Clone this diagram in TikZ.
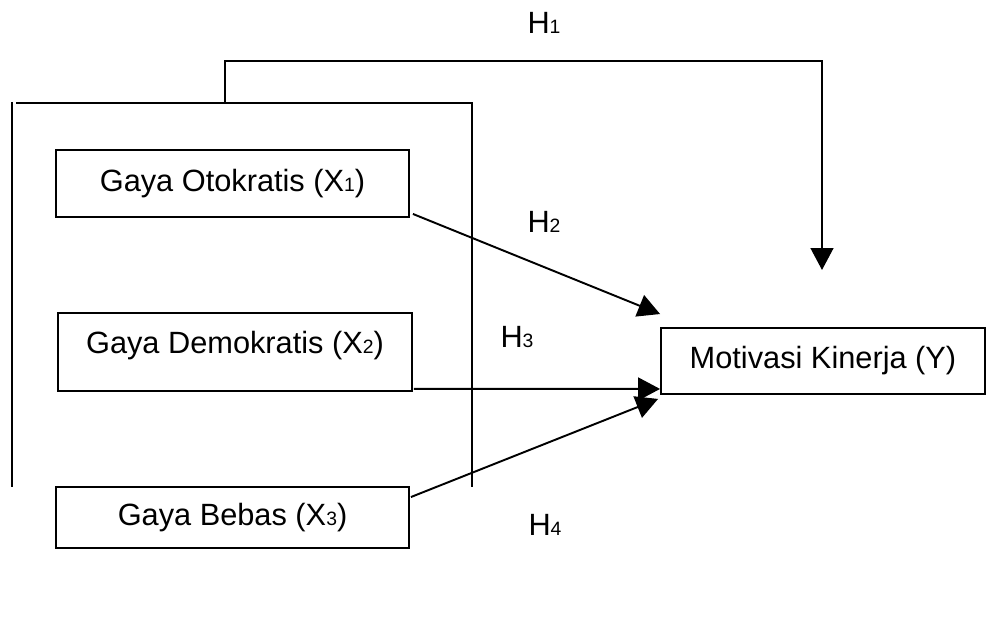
\documentclass[tikz,border=0pt]{standalone}
\usepackage{fontspec}
\setmainfont{Liberation Sans}
\usetikzlibrary{arrows.meta,positioning,calc}
\newcommand{\sx}[1]{{\fontsize{11}{12}\selectfont #1}}
\tikzset{
  >={Triangle[length=12.5pt,width=13pt]},
  var/.style={rectangle, draw, line width=1.1pt, inner sep=0pt, font=\fontsize{17.5}{21}\selectfont},
  hyp/.style={inner sep=0pt, font=\fontsize{17.5}{21}\selectfont},
  arr/.style={->, line width=1.1pt},
  frame/.style={line width=1.1pt}
}

\begin{document}
\begin{tikzpicture}[x=0.02cm, y=-0.02cm]
\useasboundingbox (0,0) rectangle (988,617);

% --- Independent variables ---
\node[var, minimum width=7.06cm, minimum height=1.34cm] (X1) at (232.5,183.5) {Gaya Otokratis (X\sx{1})};
\node[var, minimum width=7.08cm, minimum height=1.56cm, text depth=0.4cm] (X2) at (235,352) {Gaya Demokratis (X\sx{2})};
\node[var, minimum width=7.06cm, minimum height=1.22cm] (X3) at (232.5,517.5) {Gaya Bebas (X\sx{3})};

% --- Dependent variable ---
\node[var, minimum width=6.48cm, minimum height=1.32cm] (Y) at (823,361) {Motivasi Kinerja (Y)};

% --- Frame round X1..X3 ---
\draw[frame] (12,102) -- (12,487);
\draw[frame] (16,103) -- (472,103) -- (472,487);

% --- Simultaneous effect (H1) ---
\coordinate (h1start) at (225,103);
\coordinate (h1tip) at (822,270);
\draw[arr] (h1start) -- ++(0,-42) -| (h1tip);

% --- Partial effects (H2..H4) ---
\draw[arr] ($(X1.south east)+(3,-4)$) -- ($(Y.north west)+(0,-13)$);
\draw[arr] ($(X2.south east)+(1,-3)$) -- ($(Y.south west)+(0,-6)$);
\draw[arr] ($(X3.north east)+(1,11)$) -- ($(Y.south west)+(-2,4)$);

% --- Hypothesis labels ---
\node[hyp] (H1) at (544,23) {H\sx{1}};
\node[hyp] (H2) at (544,222) {H\sx{2}};
\node[hyp] (H3) at (517,337) {H\sx{3}};
\node[hyp] (H4) at (545,525) {H\sx{4}};

\end{tikzpicture}
\end{document}
